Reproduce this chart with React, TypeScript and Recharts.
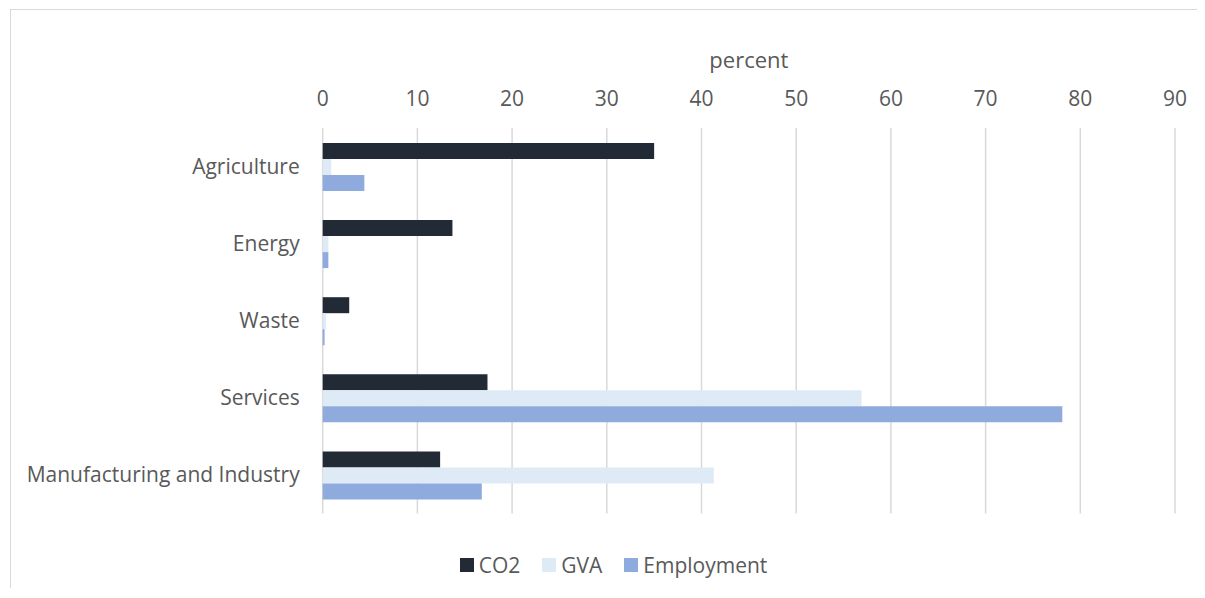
import React from 'react';
import { BarChart, Bar, XAxis, YAxis, CartesianGrid, Legend } from 'recharts';

// Sector shares, in percent
const sectors = ['Agriculture', 'Energy', 'Waste', 'Services', 'Manufacturing and Industry'];
const co2 = [35.0, 13.7, 2.8, 17.4, 12.4];
const gva = [0.9, 0.6, 0.35, 56.9, 41.3];
const employment = [4.4, 0.6, 0.2, 78.1, 16.8];
const percentTicks = [0, 10, 20, 30, 40, 50, 60, 70, 80, 90];
const seriesOrder = ['CO2', 'GVA', 'Employment'];

const data = sectors.map((sector, i) => ({
  sector,
  CO2: co2[i],
  GVA: gva[i],
  Employment: employment[i],
}));

const FONT = '"Open Sans", sans-serif';
const TEXT = '#595959';
const FS = 21;

const LegendRow = (props: any) => {
  const payload = (props.payload || []).slice().sort(
    (a: any, b: any) => seriesOrder.indexOf(a.value) - seriesOrder.indexOf(b.value)
  );
  return (
    <div style={{ height: 66.5, boxSizing: 'border-box', paddingTop: 37, paddingLeft: 44, display: 'flex', justifyContent: 'center', fontFamily: FONT, fontSize: FS, color: TEXT, lineHeight: '24px' }}>
      {payload.map((p: any, i: number) => (
        <div key={p.value} style={{ display: 'flex', alignItems: 'center', marginLeft: i === 0 ? 0 : 22 }}>
          <span style={{ display: 'inline-block', width: 14, height: 14, background: p.color, marginRight: 5 }} />
          <span>{p.value}</span>
        </div>
      ))}
    </div>
  );
};

export default function App() {
  return (
    <div style={{ position: 'relative', width: 1197, height: 580, overflow: 'hidden', background: '#fff' }}>
      <div style={{ position: 'absolute', left: 2, top: 1, width: 1300, height: 700, borderTop: '1.5px solid #d9d9d9', borderLeft: '1.5px solid #d9d9d9' }} />
      <BarChart
        width={1197}
        height={580}
        data={data}
        layout="vertical"
        margin={{ top: 10, right: 30, bottom: 8, left: 0 }}
        barSize={16}
        barGap={0}
        style={{ position: 'relative' }}
      >
        <CartesianGrid horizontal={false} stroke="#d9d9d9" strokeWidth={1.5} />
        <XAxis
          type="number"
          orientation="top"
          domain={[0, 90]}
          ticks={percentTicks}
          height={110}
          axisLine={false}
          tickLine={false}
          tickSize={0}
          tickMargin={22}
          tick={{ fill: TEXT, fontSize: FS, fontFamily: FONT }}
          label={{ value: 'percent', position: 'insideTop', offset: 34, fill: TEXT, fontSize: 22, fontFamily: FONT }}
        />
        <YAxis
          type="category"
          dataKey="sector"
          width={314.7}
          axisLine={false}
          tickLine={false}
          tickSize={0}
          tickMargin={23}
          tick={{ fill: TEXT, fontSize: FS, fontFamily: FONT }}
        />
        <Legend verticalAlign="bottom" content={<LegendRow />} />
        <Bar dataKey="CO2" fill="#222a35" isAnimationActive={false} />
        <Bar dataKey="GVA" fill="#deebf7" isAnimationActive={false} />
        <Bar dataKey="Employment" fill="#8faadc" isAnimationActive={false} />
      </BarChart>
    </div>
  );
}
